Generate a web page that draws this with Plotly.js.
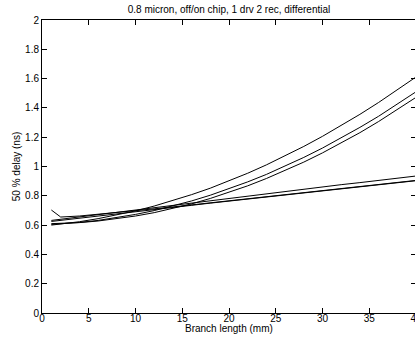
<!DOCTYPE html>
<html>
<head>
<meta charset="utf-8">
<script src="https://cdn.plot.ly/plotly-3.0.1.min.js"></script>
<style>
html,body{margin:0;padding:0;overflow:hidden;background:#fff;}
#chart{width:418px;height:341px;}
</style>
</head>
<body>
<div id="chart"></div>
<script>
// Branch length (mm)
const branchLength = [1,2,4,6,8,10,12,14,16,18,20,22,24,26,28,30,32,34,36,38,40];
// 50 % delay (ns) for each configuration
const curveA = [0.600,0.607,0.623,0.644,0.669,0.697,0.730,0.767,0.808,0.852,0.901,0.954,1.011,1.072,1.137,1.206,1.279,1.356,1.437,1.522,1.611];
const curveB = [0.605,0.608,0.618,0.632,0.650,0.673,0.699,0.730,0.765,0.804,0.847,0.895,0.946,1.002,1.062,1.126,1.194,1.267,1.343,1.424,1.510];
const curveC = [0.610,0.611,0.617,0.628,0.643,0.662,0.685,0.713,0.745,0.782,0.823,0.868,0.918,0.972,1.030,1.093,1.160,1.231,1.307,1.387,1.472];
const lineD  = [0.632,0.640,0.656,0.672,0.688,0.704,0.720,0.736,0.752,0.768,0.784,0.800,0.816,0.832,0.846,0.861,0.876,0.890,0.905,0.920,0.935];
const lineE  = [0.625,0.632,0.647,0.662,0.676,0.691,0.706,0.720,0.735,0.750,0.764,0.779,0.794,0.808,0.822,0.835,0.849,0.862,0.876,0.889,0.903];
const lineF  = [0.703,0.655,0.662,0.673,0.685,0.698,0.711,0.724,0.738,0.752,0.766,0.780,0.795,0.809,0.823,0.837,0.850,0.864,0.877,0.891,0.905];

const xTicks = [0,5,10,15,20,25,30,35,40];
const yTicks = [0,0.2,0.4,0.6,0.8,1,1.2,1.4,1.6,1.8,2];
const xTitle = 'Branch length (mm)';
const yTitle = '50 % delay (ns)';
const chartTitle = '0.8 micron, off/on chip, 1 drv 2 rec, differential';

const series = [curveA, curveB, curveC, lineD, lineE, lineF];
const traces = series.map(ys => ({
  x: branchLength, y: ys, type: 'scatter', mode: 'lines',
  line: {color: '#000', width: 1}, showlegend: false, hoverinfo: 'skip'
}));

const font = {family: 'Liberation Sans, Arial, Helvetica, sans-serif', size: 10, color: '#000'};
const axisCommon = {
  showline: true, linecolor: '#000', linewidth: 1, mirror: 'ticks',
  ticks: 'inside', ticklen: 5, tickcolor: '#000', tickwidth: 1,
  showgrid: false, zeroline: false, tickfont: font, automargin: false,
  ticklabeloverflow: 'allow'
};

const layout = {
  width: 418, height: 341,
  margin: {l: 42, r: 2, t: 20, b: 28},
  paper_bgcolor: '#fff', plot_bgcolor: '#fff',
  font: font,
  title: {text: chartTitle,
          font: {family: font.family, size: 10, color: '#000'},
          x: 0.5, xref: 'paper', y: 1 - 9/341, yref: 'container', yanchor: 'middle'},
  xaxis: Object.assign({}, axisCommon, {
    range: [0, 40], tickvals: xTicks, ticktext: xTicks.map(String),
    ticklabelstandoff: -4
  }),
  yaxis: Object.assign({}, axisCommon, {
    range: [0, 2], tickvals: yTicks, ticktext: yTicks.map(String),
    title: {text: yTitle, font: font, standoff: 2}
  }),
  annotations: [{
    text: xTitle, font: font, showarrow: false,
    xref: 'paper', yref: 'paper', x: 0.5, y: 0,
    xanchor: 'center', yanchor: 'middle', yshift: -15
  }]
};

Plotly.newPlot('chart', traces, layout, {staticPlot: true, displayModeBar: false});
</script>
</body>
</html>
